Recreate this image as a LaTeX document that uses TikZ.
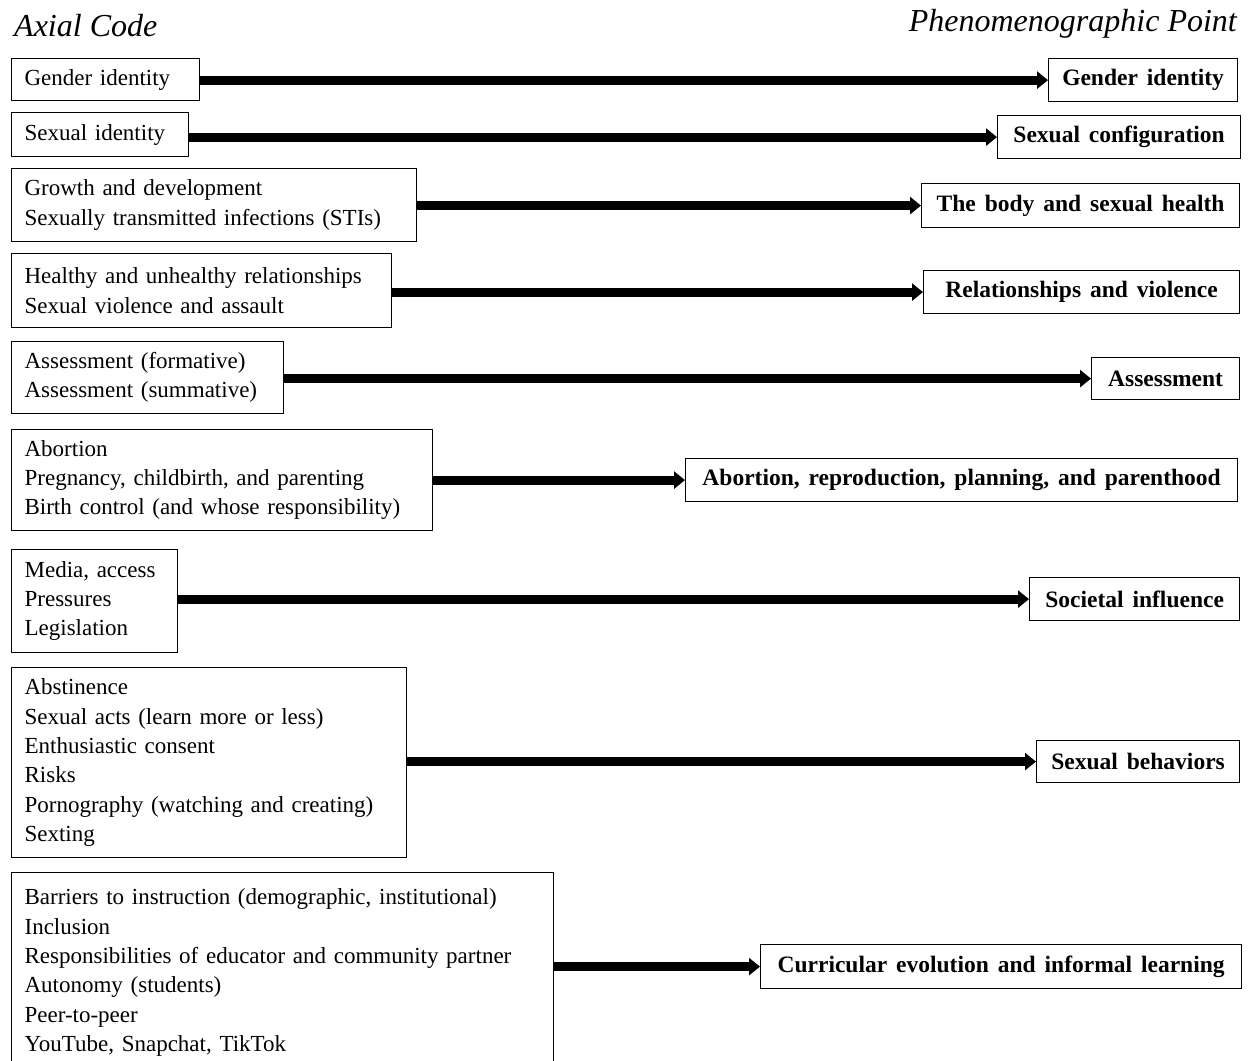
\documentclass[tikz,border=0pt]{standalone}
\usepackage{fontspec}
\setmainfont{Liberation Serif}
\usetikzlibrary{arrows.meta}
\newcommand\bodyfont{\fontsize{23}{29.3}\selectfont}
\newcommand\headfont{\fontsize{23.5}{27}\selectfont\bfseries\spaceskip=0.38em plus 0.1em}
\newcommand\titlefont{\fontsize{32}{36}\selectfont\itshape}
\tikzset{
  lbox/.style={draw, line width=1.2pt, anchor=north west, inner xsep=13pt,
    inner ysep=0pt, align=left, font=\bodyfont},
  rbox/.style={draw, line width=1.2pt, anchor=north west, inner sep=0pt,
    align=center, font=\headfont},
  conn/.style={line width=9pt, -{Triangle[length=11pt,width=17pt]}},
  title/.style={inner sep=0pt, font=\titlefont}
}
\begin{document}
\begin{tikzpicture}[x=1pt,y=-1pt]
\useasboundingbox (0,0) rectangle (1249,1060);
\clip (0,0) rectangle (1249,1060);
\fill[white] (0,0) rectangle (1249,1060);

% column headings
\node[title, anchor=base west] (axial) at (14,36) {Axial Code};
\node[title, anchor=base east] (pheno) at (1237,31) {Phenomenographic Point};

% axial codes
\node[lbox, text width=162pt, minimum height=42pt] (l1) at (11,58) {Gender identity};
\node[lbox, text width=151pt, minimum height=44pt] (l2) at (11,112) {Sexual identity};
\node[lbox, text width=379pt, minimum height=73pt] (l3) at (11,168)
  {Growth and development\\Sexually transmitted infections (STIs)};
\node[lbox, text width=354pt, minimum height=74pt] (l4) at (11,253)
  {Healthy and unhealthy relationships\\Sexual violence and assault};
\node[lbox, text width=246pt, minimum height=72pt] (l5) at (11,341)
  {Assessment (formative)\\Assessment (summative)};
\node[lbox, text width=395pt, minimum height=101pt] (l6) at (11,429)
  {Abortion\\Pregnancy, childbirth, and parenting\\Birth control (and whose responsibility)};
\node[lbox, text width=140pt, minimum height=103pt] (l7) at (11,549)
  {Media, access\\Pressures\\Legislation};
\node[lbox, text width=369pt, minimum height=190pt] (l8) at (11,667)
  {Abstinence\\Sexual acts (learn more or less)\\Enthusiastic consent\\Risks\\Pornography (watching and creating)\\Sexting};
\node[lbox, text width=516pt, minimum height=200pt, anchor=north west] (l9) at (11,872)
  {Barriers to instruction (demographic, institutional)\\Inclusion\\Responsibilities of educator and community partner\\Autonomy (students)\\Peer-to-peer\\YouTube, Snapchat, TikTok\\[10pt]};

% phenomenographic points
\node[rbox, minimum width=189pt, minimum height=43pt] (r1) at (1048,58) {Gender identity};
\node[rbox, minimum width=243pt, minimum height=43pt] (r2) at (997,115) {Sexual configuration};
\node[rbox, minimum width=318pt, minimum height=44pt] (r3) at (921,183) {The body and sexual health};
\node[rbox, minimum width=316pt, minimum height=43pt] (r4) at (923,270) {Relationships and violence};
\node[rbox, minimum width=148pt, minimum height=42pt] (r5) at (1091,357) {Assessment};
\node[rbox, minimum width=552pt, minimum height=43pt] (r6) at (685,458) {Abortion, reproduction, planning, and parenthood};
\node[rbox, minimum width=210pt, minimum height=43pt] (r7) at (1029,577) {Societal influence};
\node[rbox, minimum width=203pt, minimum height=42pt] (r8) at (1036,740) {Sexual behaviors};
\node[rbox, minimum width=481pt, minimum height=44pt] (r9) at (760,944) {Curricular evolution and informal learning};

% connectors
\foreach \i in {1,...,9}
  \draw[conn] (l\i.east |- r\i.west) -- (r\i.west);
\end{tikzpicture}
\end{document}
